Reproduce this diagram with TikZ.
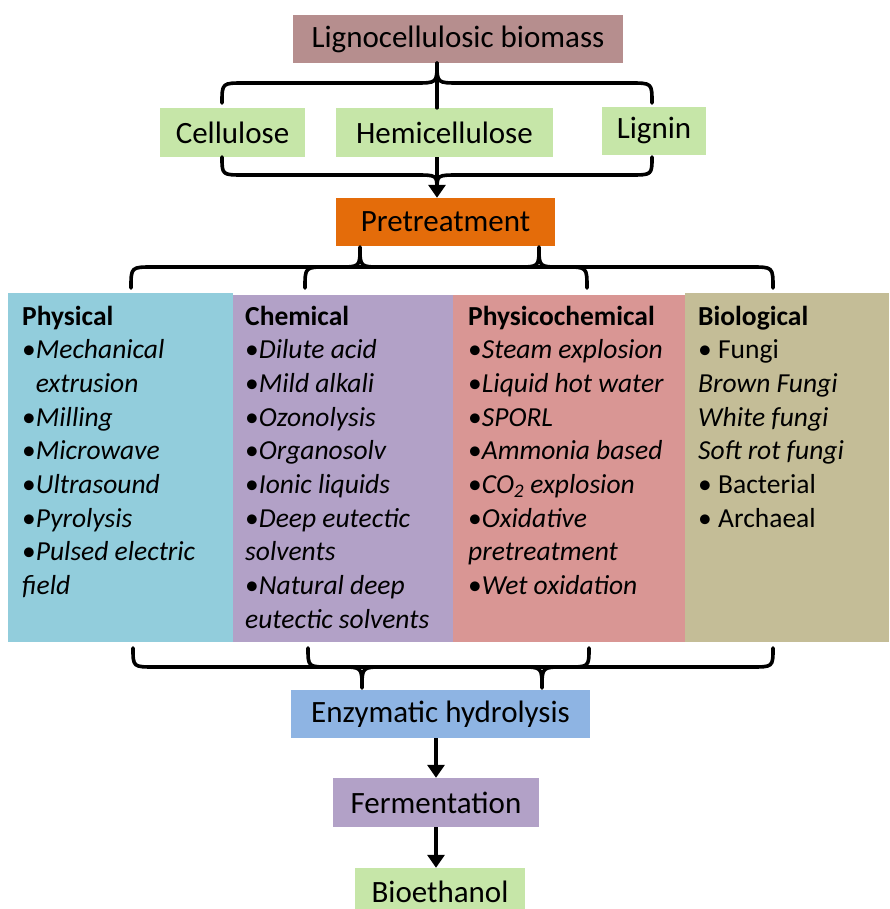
\documentclass[tikz,border=0pt]{standalone}
\usepackage{fontspec}
\setmainfont{Carlito}
\usetikzlibrary{arrows.meta}
\definecolor{cLig}{RGB}{182,142,142}
\definecolor{cGreen}{RGB}{198,230,168}
\definecolor{cOrange}{RGB}{228,108,10}
\definecolor{cPhys}{RGB}{146,205,220}
\definecolor{cChem}{RGB}{178,161,199}
\definecolor{cPchem}{RGB}{217,150,148}
\definecolor{cBio}{RGB}{196,189,151}
\definecolor{cEnz}{RGB}{142,180,227}
\newcommand\brc[6]{\draw[bracestyle] (#1,#4) .. controls (#1,#5) .. ({#1+22},#5) -- ({#3-22},#5) .. controls (#3,#5) .. (#3,#6) .. controls (#3,#5) .. ({#3+22},#5) -- ({#2-22},#5) .. controls (#2,#5) .. (#2,#4);}
\begin{document}
\begin{tikzpicture}[x=1pt,y=-1pt,
  box/.style={draw=none, inner sep=0pt, font=\fontsize{31}{36}\selectfont},
  col/.style={draw=none, inner sep=0pt},
  itm/.style={anchor=base west, inner sep=0pt, font=\fontsize{27.5}{30}\selectfont},
  bracestyle/.style={line width=3.6pt, line cap=round, line join=round},
  arr/.style={line width=3.6pt, -{Triangle[width=17pt,length=13pt]}}]
\useasboundingbox (0,0) rectangle (889,909);
% top
\node[box, fill=cLig, minimum width=330pt, minimum height=48pt] (lig) at (458,39) {Lignocellulosic biomass};
\node[box, fill=cGreen, minimum width=145pt, minimum height=49pt] (cel) at (232.5,132.5) {Cellulose};
\node[box, fill=cGreen, minimum width=217pt, minimum height=49pt] (hemi) at (444.5,132.5) {Hemicellulose};
\node[box, fill=cGreen, minimum width=104pt, minimum height=48pt] (lign) at (654,131) {Lignin};
\node[box, fill=cOrange, minimum width=219pt, minimum height=48pt] (pre) at (445.5,222) {Pretreatment};
\coordinate (axis) at (437,0);
% columns
\node[col, fill=cPhys, minimum width=225pt, minimum height=349pt] (phys) at (120.5,467.5) {};
\node[col, fill=cChem, minimum width=220pt, minimum height=347pt] (chem) at (343,468.5) {};
\node[col, fill=cPchem, minimum width=232pt, minimum height=347pt] (pchem) at (569,468.5) {};
\node[col, fill=cBio, minimum width=204pt, minimum height=349pt] (bio) at (787,467.5) {};
% bottom
\node[box, fill=cEnz, minimum width=299pt, minimum height=48pt] (enz) at (440.5,714) {Enzymatic hydrolysis};
\node[box, fill=cChem, minimum width=206pt, minimum height=49pt] (ferm) at (436,802.5) {Fermentation};
\node[box, fill=cGreen, minimum width=170pt, minimum height=48pt] (bioe) at (440,892) {Bioethanol};
% column texts
\foreach \t [count=\i from 0] in {\textbf{Physical}, •\textit{Mechanical}, \phantom{•}\textit{extrusion}, •\textit{Milling}, •\textit{Microwave}, •\textit{Ultrasound}, •\textit{Pyrolysis}, •\textit{Pulsed electric}, \textit{field}}
  \node[itm] (physt\i) at (22,{325+33.67*\i}) {\t};
\foreach \t [count=\i from 0] in {\textbf{Chemical}, •\textit{Dilute acid}, •\textit{Mild alkali}, •\textit{Ozonolysis}, •\textit{Organosolv}, •\textit{Ionic liquids}, •\textit{Deep eutectic}, \textit{solvents}, •\textit{Natural deep}, \textit{eutectic solvents}}
  \node[itm] (chemt\i) at (245,{325+33.67*\i}) {\t};
\foreach \t [count=\i from 0] in {\textbf{Physicochemical}, •\textit{Steam explosion}, •\textit{Liquid hot water}, •\textit{SPORL}, •\textit{Ammonia based}, •\textit{CO\textsubscript{2} explosion}, •\textit{Oxidative}, \textit{pretreatment}, •\textit{Wet oxidation}}
  \node[itm] (pchemt\i) at (468,{325+33.67*\i}) {\t};
\foreach \t [count=\i from 0] in {\textbf{Biological}, • Fungi, \textit{Brown Fungi}, \textit{White fungi}, \textit{Soft rot fungi}, • Bacterial, • Archaeal}
  \node[itm] (biot\i) at (698,{325+33.67*\i}) {\t};
% braces and connectors
\brc{222}{652}{437}{103}{83}{63}
\draw[bracestyle] (lig.south -| axis) -- (hemi.north -| axis);
\brc{222}{652}{437}{157}{175}{190}
\draw[arr] (hemi.south -| axis) -- (pre.north -| axis);
\brc{131}{587}{360}{288}{267}{247}
\brc{305}{773}{539}{288}{267}{247}
\brc{133}{589}{362}{648}{667}{688}
\brc{308}{773}{542}{648}{667}{688}
\draw[arr] (enz.south -| ferm.north) -- (ferm.north);
\draw[arr] (ferm.south) -- (ferm.south |- bioe.north);
\end{tikzpicture}
\end{document}
